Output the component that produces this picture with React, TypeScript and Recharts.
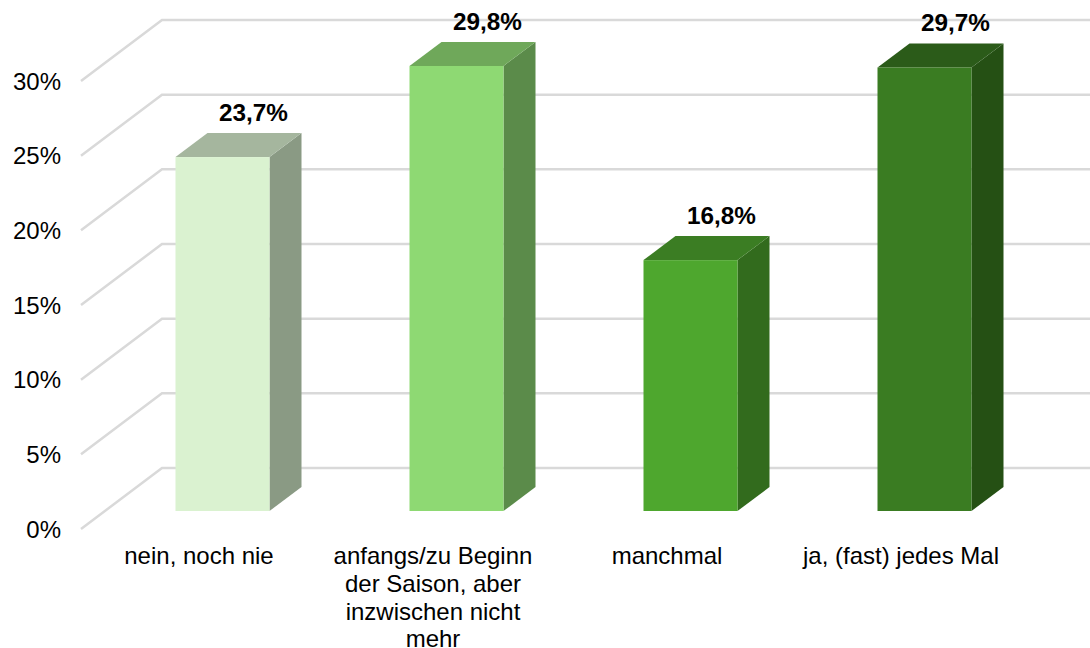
import React from "react";
import { BarChart, Bar, XAxis, YAxis, LabelList, CartesianGrid } from "recharts";

const categories = [
  "nein, noch nie",
  "anfangs/zu Beginn|der Saison, aber|inzwischen nicht|mehr",
  "manchmal",
  "ja, (fast) jedes Mal",
];
const values = [23.7, 29.8, 16.8, 29.7];
const frontColors = ["#DAF2D0", "#8ED973", "#4EA72E", "#3A7C22"];
const sideColors = ["#8A9A84", "#5B8B4A", "#326B1D", "#255014"];
const topColors = ["#A5B69E", "#6FA85A", "#3B7D23", "#2B5B19"];
const yTicks = [0, 5, 10, 15, 20, 25, 30];

const data = categories.map((name, i) => ({ name, value: values[i] }));

const FONT = "'Liberation Sans', Arial, sans-serif";
const DX = 32;
const DY = 24;

const Bar3D = (props: any) => {
  const { x, y, width, height, index } = props;
  const r = x + width;
  const b = y + height;
  return (
    <g>
      <polygon points={`${r},${y} ${r + DX},${y - DY} ${r + DX},${b - DY} ${r},${b}`} fill={sideColors[index]} />
      <polygon points={`${x},${y} ${x + DX},${y - DY} ${r + DX},${y - DY} ${r},${y}`} fill={topColors[index]} />
      <rect x={x} y={y} width={width} height={height} fill={frontColors[index]} />
    </g>
  );
};

const GridLine = (props: any) => {
  const { y1 } = props;
  return (
    <polyline
      points={`81,${y1 + 18} 162,${y1 - 43} 1090,${y1 - 43}`}
      fill="none"
      stroke="#D9D9D9"
      strokeWidth={2.5}
    />
  );
};

const YTick = (props: any) => {
  const { y, payload } = props;
  return (
    <text x={61} y={y + 18} dy="0.36em" textAnchor="end" fontFamily={FONT} fontSize={24} fill="#000">
      {payload.value}%
    </text>
  );
};

const XTick = (props: any) => {
  const { x, payload } = props;
  return (
    <text textAnchor="middle" fontFamily={FONT} fontSize={24} fill="#000">
      {String(payload.value)
        .split("|")
        .map((line: string, i: number) => (
          <tspan key={i} x={x - 23.5} y={564.3 + i * 27.6}>
            {line}
          </tspan>
        ))}
    </text>
  );
};

const ValueLabel = (props: any) => {
  const { x, y, width, value } = props;
  return (
    <text
      x={x + width / 2 + 31}
      y={y - 45}
      dy="0.36em"
      textAnchor="middle"
      fontFamily={FONT}
      fontWeight="bold"
      fontSize={24.3}
      fill="#000"
    >
      {String(value).replace(".", ",")}%
    </text>
  );
};

export default function App() {
  return (
    <div style={{ position: "absolute", left: 0, top: 0, width: 1090, height: 648, background: "#fff" }}>
      <BarChart
        width={1090}
        height={648}
        data={data}
        margin={{ top: 63, right: 48.5, bottom: 0, left: 0 }}
        barCategoryGap={0}
        style={{ overflow: "hidden" }}
      >
        <CartesianGrid vertical={false} horizontal={<GridLine />} syncWithTicks />
        <YAxis
          type="number"
          domain={[0, 30]}
          ticks={yTicks}
          width={105.5}
          axisLine={false}
          tickLine={false}
          interval={0}
          tick={<YTick />}
        />
        <XAxis dataKey="name" height={137} axisLine={false} tickLine={false} interval={0} tick={<XTick />} />
        <Bar dataKey="value" barSize={94} isAnimationActive={false} shape={<Bar3D />}>
          <LabelList dataKey="value" content={<ValueLabel />} />
        </Bar>
      </BarChart>
    </div>
  );
}
